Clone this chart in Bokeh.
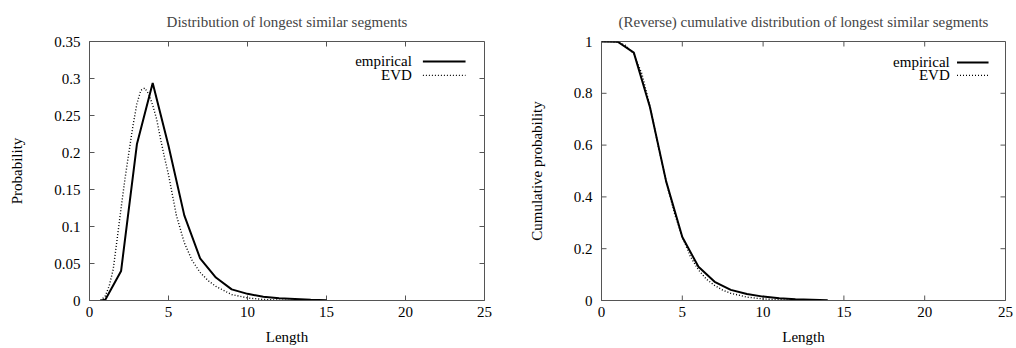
import math

from bokeh.plotting import figure
from bokeh.layouts import row
from bokeh.models import FixedTicker, Range1d
from bokeh.core.properties import value
from bokeh.embed import file_html
from bokeh.resources import INLINE

# Probability distribution of longest similar segment lengths
emp_len = [0.7, 1, 2, 3, 4, 5, 6, 7, 8, 9, 10, 11, 12, 13, 14, 15]
emp_prob = [0.0, 0.001, 0.040, 0.211, 0.294, 0.209, 0.115, 0.057, 0.031, 0.015,
            0.009, 0.005, 0.003, 0.002, 0.001, 0.0005]

evd_len = [0.7, 1.0, 1.25, 1.5, 1.75, 2.0, 2.25, 2.5, 2.75, 3.0, 3.25, 3.5, 3.75,
           4.0, 4.25, 4.5, 4.75, 5.0, 5.5, 6.0, 6.5, 7.0, 7.5, 8.0, 9.0, 10.0,
           11.0, 12.0, 13.0]
evd_prob = [0.0, 0.006, 0.020, 0.042, 0.083, 0.125, 0.165, 0.201, 0.236, 0.266,
            0.284, 0.287, 0.279, 0.264, 0.245, 0.218, 0.193, 0.170, 0.115, 0.078,
            0.054, 0.038, 0.027, 0.019, 0.008, 0.0035, 0.0014, 0.0005, 0.0]

# Reverse cumulative distribution
cum_emp_len = [0, 1, 2, 3, 4, 5, 6, 7, 8, 9, 10, 11, 12, 13, 14]
cum_emp = [1.0, 0.999, 0.957, 0.746, 0.460, 0.245, 0.130, 0.072, 0.041, 0.025,
           0.015, 0.009, 0.005, 0.003, 0.001]

cum_evd_len = [0, 0.5, 1.0, 1.5, 2.0, 2.5, 3.0, 3.5, 4.0, 4.5, 5.0, 5.5, 6.0, 6.5,
               7.0, 7.5, 8.0, 9.0, 10.0, 11.0, 12.0]
cum_evd = [1.0, 1.0, 0.997, 0.985, 0.952, 0.875, 0.750, 0.600, 0.460, 0.340,
           0.245, 0.170, 0.118, 0.082, 0.058, 0.040, 0.028, 0.013, 0.006, 0.003,
           0.001]

x_ticks = [0, 5, 10, 15, 20, 25]
x_tick_labels = ["0", "5", "10", "15", "20", "25"]
p_ticks = [0, 0.05, 0.1, 0.15, 0.2, 0.25, 0.3, 0.35]
p_tick_labels = ["0", "0.05", "0.1", "0.15", "0.2", "0.25", "0.3", "0.35"]
c_ticks = [0, 0.2, 0.4, 0.6, 0.8, 1.0]
c_tick_labels = ["0", "0.2", "0.4", "0.6", "0.8", "1"]

series_names = ["empirical", "EVD"]

FONT = "Liberation Serif"
FS = "15px"
AXIS_COLOR = "#555555"
TICK_LEN = 5
X_MAX = 25


def style_axis(ax, ticks, labels):
    ax.ticker = FixedTicker(ticks=ticks)
    ax.major_label_overrides = {t: l for t, l in zip(ticks, labels)}
    ax.major_tick_in = 0
    ax.major_tick_out = 0
    ax.minor_tick_line_color = None
    ax.axis_line_color = AXIS_COLOR
    ax.major_label_text_font = FONT
    ax.major_label_text_font_size = FS
    ax.major_label_text_color = "black"
    ax.axis_label_text_font = FONT
    ax.axis_label_text_font_size = FS
    ax.axis_label_text_font_style = "normal"
    ax.axis_label_text_color = "black"


def inward_ticks(p, yticks, ymax):
    # gnuplot-style ticks pointing into the frame on all four sides
    kw = dict(length=TICK_LEN, length_units="screen", line_color=AXIS_COLOR, line_width=1)
    n = len(x_ticks)
    p.ray(x=x_ticks, y=[0] * n, angle=math.pi / 2, **kw)
    p.ray(x=x_ticks, y=[ymax] * n, angle=-math.pi / 2, **kw)
    m = len(yticks)
    p.ray(x=[0] * m, y=yticks, angle=0, **kw)
    p.ray(x=[X_MAX] * m, y=yticks, angle=math.pi, **kw)


def make_panel(title, ylabel, yticks, ylabels, ymax, width, left, right):
    p = figure(width=width, height=348, output_backend="svg", toolbar_location=None,
               x_range=Range1d(0, X_MAX), y_range=Range1d(0, ymax),
               min_border_left=left, min_border_right=right,
               min_border_top=41, min_border_bottom=48)
    p.title.text = title
    p.title.align = "center"
    p.title.text_font = FONT
    p.title.text_font_size = FS
    p.title.text_font_style = "normal"
    p.title.standoff = 23
    p.grid.visible = False
    p.outline_line_color = AXIS_COLOR
    p.background_fill_color = "white"
    p.border_fill_color = "white"

    style_axis(p.xaxis[0], x_ticks, x_tick_labels)
    p.xaxis[0].axis_label = "Length"
    p.xaxis[0].major_label_standoff = 6
    p.xaxis[0].axis_label_standoff = 9
    style_axis(p.yaxis[0], yticks, ylabels)
    p.yaxis[0].axis_label = ylabel
    p.yaxis[0].major_label_standoff = 9
    p.yaxis[0].axis_label_standoff = 26

    inward_ticks(p, yticks, ymax)
    return p


def legend(p, text_x, seg_x0, seg_x1, rows_y):
    styles = [dict(line_width=2, line_dash="solid"), dict(line_width=1.3, line_dash="1 2")]
    for name, y, st in zip(series_names, rows_y, styles):
        p.text(x=[text_x], y=[y], text=[name], text_align="right",
               text_baseline="middle", text_font=value(FONT), text_font_size=FS,
               text_color="black")
        p.line([seg_x0, seg_x1], [y, y], line_color="black", **st)


# Left: probability distribution
p1 = make_panel("Distribution of longest similar segments", "Probability",
                p_ticks, p_tick_labels, 0.35, 500, 89, 16)
p1.line(evd_len, evd_prob, line_color="black", line_width=1.4, line_dash="1 2")
p1.line(emp_len, emp_prob, line_color="black", line_width=2)
legend(p1, 20.4, 21.1, 23.8, [0.3230, 0.3041])

# Right: reverse cumulative distribution
p2 = make_panel("(Reverse) cumulative distribution of longest similar segments",
                "Cumulative probability", c_ticks, c_tick_labels, 1.0, 516, 101, 11)
p2.line(cum_evd_len, cum_evd, line_color="black", line_width=1.4, line_dash="1 2")
p2.line(cum_emp_len, cum_emp, line_color="black", line_width=2)
legend(p2, 21.55, 22.0, 23.95, [0.919, 0.869])

layout = row(p1, p2)
open("out.html", "w").write(file_html(layout, INLINE))
